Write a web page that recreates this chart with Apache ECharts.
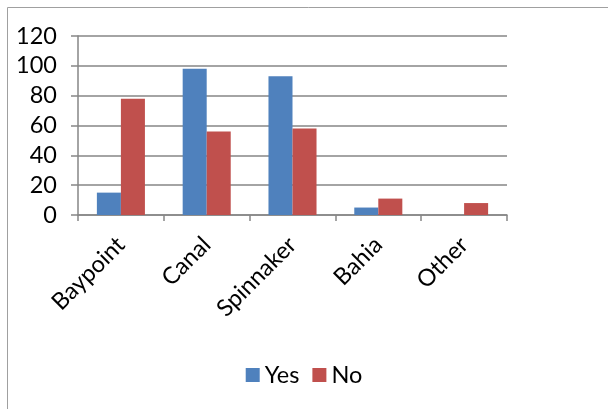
<!DOCTYPE html>
<html>
<head>
<meta charset="utf-8">
<script src="https://cdn.jsdelivr.net/npm/echarts@6/dist/echarts.min.js"></script>
<style>
  html, body { margin: 0; padding: 0; background: #ffffff; }
  #chart { width: 608px; height: 409px; }
</style>
</head>
<body>
<div id="chart"></div>
<script>
const categories = ['Baypoint', 'Canal', 'Spinnaker', 'Bahia', 'Other'];
const yesValues = [15, 98, 93, 5, 0];
const noValues = [78, 56, 58, 11, 8];

const fontFamily = 'Lato, sans-serif';
const axisGray = '#868686';
const textColor = '#000000';

const chart = echarts.init(document.getElementById('chart'), null, { renderer: 'canvas' });

chart.setOption({
    animation: false,
    textStyle: { fontFamily },
    graphic: [{
        type: 'rect',
        shape: { x: 7.5, y: 7.5, width: 640, height: 440 },
        style: { fill: 'none', stroke: '#a0a0a0', lineWidth: 1 },
        silent: true,
    }],
    grid: { left: 78, right: 101, top: 36, bottom: 194 },
    legend: {
        data: ['Yes', 'No'],
        top: 358,
        left: 'center',
        itemWidth: 14,
        itemHeight: 14,
        itemGap: 13,
        icon: 'rect',
        textStyle: { color: textColor, fontSize: 23.5, fontFamily },
    },
    xAxis: {
        type: 'category',
        data: categories,
        axisLine: { lineStyle: { color: axisGray, width: 1.5 } },
        axisTick: { show: true, length: 6, lineStyle: { color: axisGray, width: 1.5 } },
        axisLabel: { color: textColor, fontSize: 23.5, rotate: 45, margin: 26, fontFamily },
    },
    yAxis: {
        type: 'value',
        min: 0,
        max: 120,
        interval: 20,
        axisLine: { show: true, lineStyle: { color: axisGray, width: 1.5 } },
        axisTick: { show: true, length: 7, lineStyle: { color: axisGray, width: 1.5 } },
        axisLabel: { color: textColor, fontSize: 23.5, margin: 21, fontFamily },
        splitLine: { lineStyle: { color: axisGray, width: 1.5 } },
    },
    series: [
        {
            name: 'Yes',
            type: 'bar',
            data: yesValues,
            barWidth: '28%',
            barGap: '0%',
            itemStyle: { color: '#4f81bd' },
        },
        {
            name: 'No',
            type: 'bar',
            data: noValues,
            barWidth: '28%',
            barGap: '0%',
            itemStyle: { color: '#c0504d' },
        },
    ],
});
</script>
</body>
</html>
